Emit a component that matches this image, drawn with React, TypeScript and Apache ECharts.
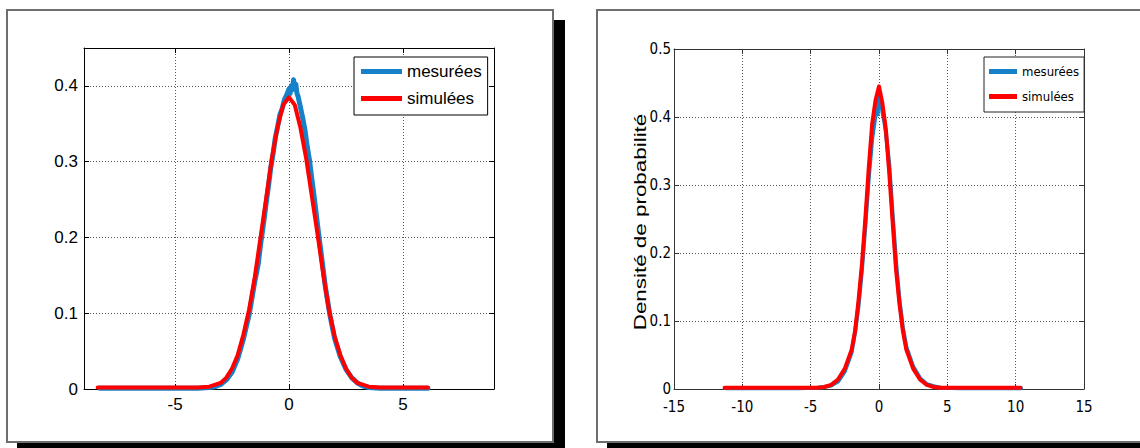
import React, { useEffect, useRef } from "react";
import * as echarts from "echarts";

// ---------- data ----------
const seriesNames = ["mesurées", "simulées"];
const yAxisTitle = "Densité de probabilité";

const leftXTicks = [-5, 0, 5];
const leftYTicks = [0, 0.1, 0.2, 0.3, 0.4];
const rightXTicks = [-15, -10, -5, 0, 5, 10, 15];
const rightYTicks = [0, 0.1, 0.2, 0.3, 0.4, 0.5];

// left panel, measured (blue)
const leftMeasured: [number, number][] = [
  [-8.3, 0.001], [-6, 0.001], [-4, 0.001], [-3.5, 0.002], [-3.25, 0.003], [-3, 0.006],
  [-2.75, 0.012], [-2.5, 0.022], [-2.25, 0.04], [-2, 0.066], [-1.75, 0.098], [-1.5, 0.142],
  [-1.35, 0.165], [-1.25, 0.19], [-1.1, 0.222], [-1, 0.246], [-0.9, 0.268], [-0.8, 0.292],
  [-0.7, 0.31], [-0.6, 0.332], [-0.5, 0.346], [-0.4, 0.362], [-0.3, 0.37], [-0.2, 0.382],
  [-0.1, 0.388], [0, 0.396], [0.05, 0.39], [0.1, 0.4], [0.15, 0.395], [0.2, 0.408],
  [0.25, 0.398], [0.3, 0.402], [0.35, 0.39], [0.4, 0.386], [0.5, 0.372], [0.6, 0.358],
  [0.7, 0.342], [0.8, 0.32], [0.9, 0.302], [1, 0.278], [1.1, 0.255], [1.2, 0.23],
  [1.3, 0.205], [1.4, 0.182], [1.5, 0.158], [1.6, 0.134], [1.8, 0.097], [2, 0.067],
  [2.25, 0.043], [2.5, 0.026], [2.75, 0.015], [3, 0.008], [3.25, 0.004], [3.5, 0.002],
  [4, 0.001], [6.1, 0.001],
];

// left panel, simulated (red)
const leftSimulated: [number, number][] = [
  [-8.4, 0.002], [-4, 0.002], [-3.5, 0.003], [-3, 0.008], [-2.75, 0.015], [-2.5, 0.027],
  [-2.25, 0.045], [-2, 0.072], [-1.75, 0.105], [-1.5, 0.148], [-1.25, 0.2], [-1, 0.252],
  [-0.75, 0.305], [-0.5, 0.346], [-0.25, 0.375], [0, 0.385], [0.25, 0.375], [0.5, 0.345],
  [0.75, 0.305], [1, 0.255], [1.25, 0.205], [1.5, 0.152], [1.75, 0.105], [2, 0.07],
  [2.25, 0.045], [2.5, 0.027], [2.75, 0.015], [3, 0.008], [3.5, 0.003], [4, 0.002],
  [6.1, 0.002],
];

// right panel, measured (blue)
const rightMeasured: [number, number][] = [
  [-11.2, 0.001], [-6, 0.001], [-4.5, 0.002], [-4, 0.003], [-3.5, 0.005], [-3, 0.011],
  [-2.5, 0.026], [-2, 0.054], [-1.75, 0.084], [-1.5, 0.122], [-1.25, 0.175], [-1, 0.24],
  [-0.75, 0.31], [-0.5, 0.368], [-0.3, 0.396], [-0.2, 0.41], [-0.1, 0.404], [0, 0.432],
  [0.05, 0.418], [0.1, 0.424], [0.2, 0.414], [0.3, 0.402], [0.4, 0.392], [0.5, 0.378],
  [0.75, 0.33], [1, 0.256], [1.25, 0.186], [1.5, 0.13], [1.75, 0.09], [2, 0.062],
  [2.5, 0.033], [3, 0.016], [3.5, 0.007], [4, 0.004], [4.5, 0.002], [6, 0.001],
  [10.4, 0.001],
];

// right panel, simulated (red)
const rightSimulated: [number, number][] = [
  [-11.3, 0.002], [-4.5, 0.002], [-4, 0.003], [-3.5, 0.006], [-3, 0.014], [-2.5, 0.03],
  [-2, 0.058], [-1.75, 0.085], [-1.5, 0.13], [-1.25, 0.183], [-1, 0.25], [-0.75, 0.325],
  [-0.5, 0.39], [-0.25, 0.425], [0, 0.445], [0.25, 0.42], [0.5, 0.382], [0.75, 0.318],
  [1, 0.245], [1.25, 0.175], [1.5, 0.125], [1.75, 0.085], [2, 0.058], [2.5, 0.03],
  [3, 0.014], [3.5, 0.006], [4, 0.003], [4.5, 0.002], [10.35, 0.002],
];

// ---------- styling ----------
const BLUE = "#1680c8";
const RED = "#ff0000";
const LEFT_FONT = "'Liberation Sans', Arial, sans-serif";
const RIGHT_FONT = "'Liberation Sans Narrow', 'DejaVu Sans Condensed', 'Liberation Sans', sans-serif";

function buildOption() {
  const grid = [
    { left: 84, top: 48, width: 410, height: 341 },
    { left: 674, top: 49, width: 410, height: 340 },
  ];

  const splitLine = { show: true, lineStyle: { color: "#555", type: [1, 2] as any, width: 1 } };
  const axisLine = (color: string) => ({ show: true, onZero: false, lineStyle: { color, width: 1 } });
  const tick = (color: string, values?: number[]) => ({
    show: true,
    inside: true,
    length: 5,
    lineStyle: { color },
    ...(values ? { customValues: values } : {}),
  });

  const xAxis: any[] = [
    {
      type: "value", gridIndex: 0, min: -9, max: 9, position: "bottom",
      axisLine: axisLine("#000"),
      axisTick: tick("#000", leftXTicks),
      axisLabel: { customValues: leftXTicks, color: "#000", fontSize: 17, fontFamily: LEFT_FONT, margin: 7 },
      splitLine,
    },
    {
      type: "value", gridIndex: 0, min: -9, max: 9, position: "top",
      axisLine: axisLine("#000"),
      axisTick: tick("#000", leftXTicks),
      axisLabel: { show: false },
      splitLine: { show: false },
    },
    {
      type: "value", gridIndex: 1, min: -15, max: 15, interval: 5, position: "bottom",
      axisLine: axisLine("#333"),
      axisTick: tick("#333", rightXTicks),
      axisLabel: { customValues: rightXTicks, color: "#000", fontSize: 15, fontFamily: RIGHT_FONT, margin: 10 },
      splitLine,
    },
    {
      type: "value", gridIndex: 1, min: -15, max: 15, interval: 5, position: "top",
      axisLine: axisLine("#333"),
      axisTick: tick("#333", rightXTicks),
      axisLabel: { show: false },
      splitLine: { show: false },
    },
  ];

  const yAxis: any[] = [
    {
      type: "value", gridIndex: 0, min: 0, max: 0.45, position: "left",
      axisLine: axisLine("#000"),
      axisTick: tick("#000", leftYTicks),
      axisLabel: { customValues: leftYTicks, color: "#000", fontSize: 17, fontFamily: LEFT_FONT, margin: 6 },
      splitLine,
    },
    {
      type: "value", gridIndex: 0, min: 0, max: 0.45, position: "right",
      axisLine: axisLine("#000"),
      axisTick: tick("#000", leftYTicks),
      axisLabel: { show: false },
      splitLine: { show: false },
    },
    {
      type: "value", gridIndex: 1, min: 0, max: 0.5, interval: 0.1, position: "left",
      axisLine: axisLine("#333"),
      axisTick: tick("#333", rightYTicks),
      axisLabel: { customValues: rightYTicks, color: "#000", fontSize: 15, fontFamily: RIGHT_FONT, margin: 3 },
      splitLine,
    },
    {
      type: "value", gridIndex: 1, min: 0, max: 0.5, interval: 0.1, position: "right",
      axisLine: axisLine("#333"),
      axisTick: tick("#333", rightYTicks),
      axisLabel: { show: false },
      splitLine: { show: false },
    },
  ];

  const line = (name: string, data: [number, number][], color: string, width: number, xi: number, yi: number) => ({
    type: "line",
    name,
    data,
    xAxisIndex: xi,
    yAxisIndex: yi,
    showSymbol: false,
    symbol: "none",
    color,
    lineStyle: { color, width, join: "round", cap: "round" },
    clip: true,
  });

  const series = [
    line(seriesNames[0], leftMeasured, BLUE, 5, 0, 0),
    line(seriesNames[1], leftSimulated, RED, 4, 0, 0),
    line(seriesNames[0], rightMeasured, BLUE, 4, 2, 2),
    line(seriesNames[1], rightSimulated, RED, 4, 2, 2),
  ];

  const legend = [
    {
      data: seriesNames, orient: "vertical", left: 354, top: 57,
      padding: [6, 6, 8, 7], itemGap: 10, itemWidth: 41, itemHeight: 5, itemTextGap: 4,
      icon: "rect", borderColor: "#000", borderWidth: 1, backgroundColor: "#fff",
      selectedMode: false,
      textStyle: { color: "#000", fontSize: 17, fontFamily: LEFT_FONT },
    },
    {
      data: seriesNames, orient: "vertical", left: 984, top: 57,
      padding: [8, 5, 9, 5], itemGap: 12, itemWidth: 28, itemHeight: 5, itemTextGap: 3,
      icon: "rect", borderColor: "#222", borderWidth: 1, backgroundColor: "#fff",
      selectedMode: false,
      textStyle: { color: "#000", fontSize: 13, fontFamily: RIGHT_FONT },
    },
  ];

  const graphic = [
    { type: "rect", shape: { x: 554, y: 20, width: 11, height: 428 }, style: { fill: "#000" }, z: 0 },
    { type: "rect", shape: { x: 17, y: 443, width: 548, height: 5 }, style: { fill: "#000" }, z: 0 },
    { type: "rect", shape: { x: 7, y: 10, width: 546, height: 432 }, style: { fill: "none", stroke: "#6e6e6e", lineWidth: 2 }, z: 0 },
    { type: "rect", shape: { x: 607, y: 443, width: 533, height: 5 }, style: { fill: "#000" }, z: 0 },
    { type: "rect", shape: { x: 597, y: 10, width: 600, height: 432 }, style: { fill: "none", stroke: "#6e6e6e", lineWidth: 2 }, z: 0 },
    {
      type: "text", x: 640, y: 222, rotation: Math.PI / 2, scaleX: 1.4, scaleY: 1,
      style: {
        text: yAxisTitle, fill: "#000", font: "16px 'Liberation Sans', Arial, sans-serif",
        textAlign: "center", textVerticalAlign: "middle", align: "center", verticalAlign: "middle",
      },
      z: 10,
    },
  ];

  return { animation: false, backgroundColor: "#fff", grid, xAxis, yAxis, series, legend, graphic };
}

export default function App() {
  const ref = useRef<HTMLDivElement>(null);
  useEffect(() => {
    if (!ref.current) return;
    const chart = echarts.init(ref.current, undefined, { renderer: "svg" });
    chart.setOption(buildOption() as any);
    return () => chart.dispose();
  }, []);
  return (
    <div
      ref={ref}
      style={{ position: "fixed", left: 0, top: 0, width: 1140, height: 448, background: "#fff" }}
    />
  );
}
